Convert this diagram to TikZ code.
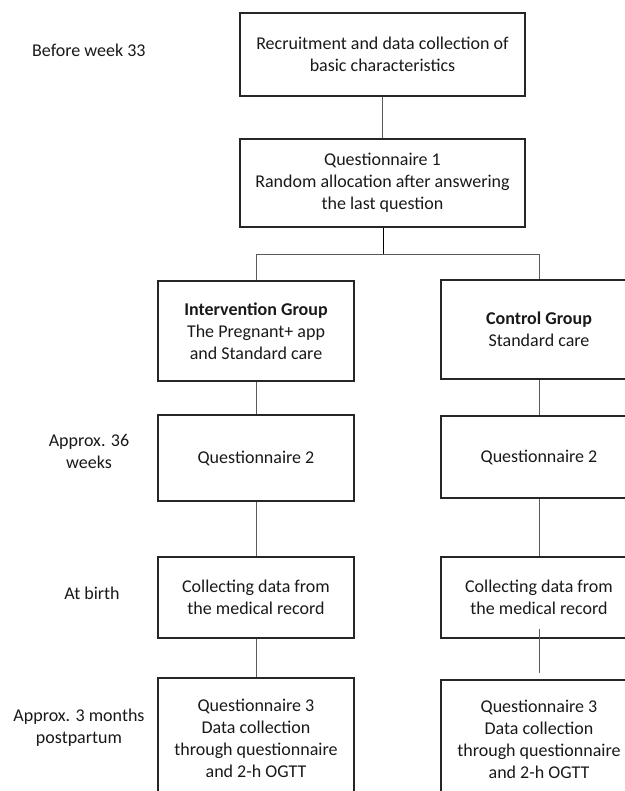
\documentclass[tikz,border=0pt]{standalone}
\usepackage{fontspec}
\setmainfont{Carlito}
\begin{document}
\begin{tikzpicture}[x=1pt,y=-1pt,
  every node/.style={font=\fontsize{18}{22}\selectfont, text=black!90},
  box/.style={draw=black!85, line width=1.4pt, align=center, inner sep=0pt},
  lab/.style={align=center, inner sep=0pt},
  conn/.style={draw=black!65, line width=1pt}]
\useasboundingbox (0,0) rectangle (624,791);
% main boxes
\node[box, minimum width=285, minimum height=83] (b1) at (382.5,54.5)
  {Recruitment and data collection of\\basic characteristics};
\node[box, minimum width=285, minimum height=88] (b2) at (382.5,183)
  {Questionnaire 1\\Random allocation after answering\\the last question};
% intervention column
\node[box, minimum width=196, minimum height=100] (ig) at (256,331)
  {\textbf{Intervention Group}\\The Pregnant+ app\\and Standard care};
\node[box, minimum width=196, minimum height=86] (q2l) at (256,458)
  {Questionnaire 2};
\node[box, minimum width=196, minimum height=81] (c3l) at (256,597.5)
  {Collecting data from\\the medical record};
\node[box, minimum width=196, minimum height=120] (q3l) at (256,738)
  {Questionnaire 3\\Data collection\\through questionnaire\\and 2-h OGTT};
% control column
\node[box, minimum width=196, minimum height=99] (cg) at (539,329.5)
  {\textbf{Control Group}\\Standard care};
\node[box, minimum width=196, minimum height=82] (q2r) at (539,457)
  {Questionnaire 2};
\node[box, minimum width=196, minimum height=81] (c3r) at (539,597.5)
  {Collecting data from\\the medical record};
\node[box, minimum width=196, minimum height=118] (q3r) at (539,739)
  {Questionnaire 3\\Data collection\\through questionnaire\\and 2-h OGTT};
% time labels
\node[lab, anchor=west] (t1) at (32,50) {Before week 33};
\node[lab] (t2) at (89,451) {Approx. 36\\weeks};
\node[lab] (t3) at (92,593) {At birth};
\node[lab] (t4) at (79,728) {Approx. 3 months\\postpartum};
% connectors
\draw[conn, line width=1.3pt] (b1.south) -- (b2.north);
\coordinate (sp) at (383.5,255);
\draw[conn, draw=black] (b2.south -| sp) -- (sp);
\draw[conn] (ig.north) -- (256,255) -| (cg.north);
\draw[conn] (ig.south) -- (q2l.north);
\draw[conn] (q2l.south) -- (c3l.north);
\draw[conn] (c3l.south) -- (q3l.north);
\draw[conn] (cg.south) -- (q2r.north);
\draw[conn] (q2r.south) -- (c3r.north);
\draw[conn] ([yshift=10pt]c3r.south) -- ([yshift=6pt]q3r.north);
\end{tikzpicture}
\end{document}
